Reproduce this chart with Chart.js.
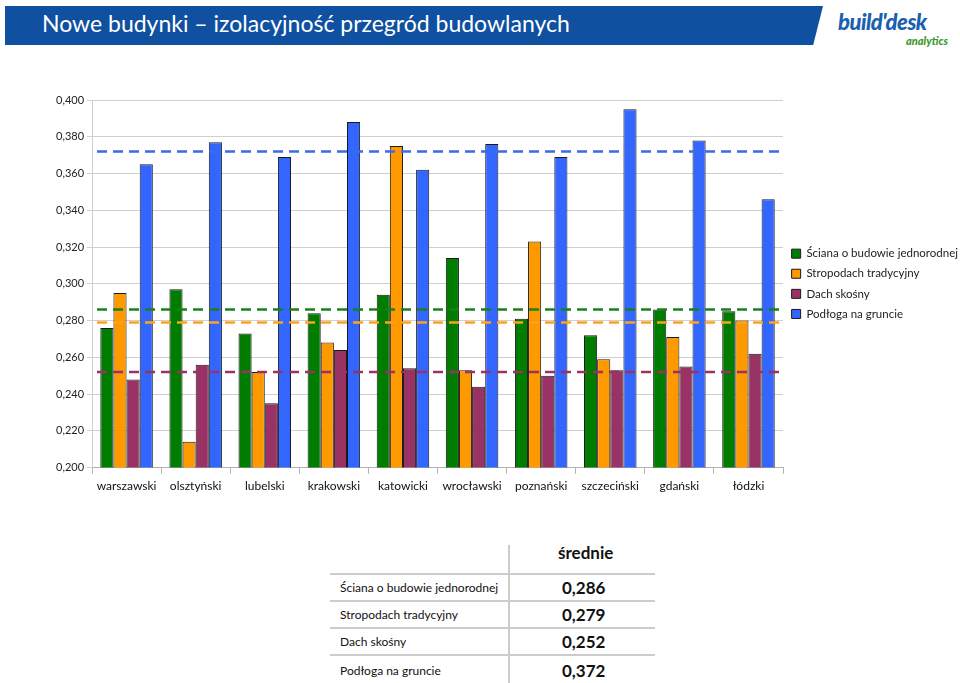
<!DOCTYPE html>
<html>
<head>
<meta charset="utf-8">
<script src="https://cdn.jsdelivr.net/npm/chart.js@4"></script>
<style>
  body { margin: 0; background: #fff; font-family: Lato, sans-serif; }
  #page { position: relative; width: 960px; height: 683px; overflow: hidden; }
  #banner { position: absolute; left: 5px; top: 6px; width: 818px; height: 39px; background: #0f50a0;
            clip-path: polygon(0 0, 100% 0, 98.8% 100%, 0 100%); }
  #title { position: absolute; left: 42px; top: 9px; color: #fff; font-size: 23px; }
  #logo { position: absolute; left: 838px; top: 8px; color: #1a60b0; font-size: 22px; font-weight: 900; font-style: italic; letter-spacing: -0.5px; }
  #logo2 { position: absolute; left: 906px; top: 34px; color: #3a9a2a; font-size: 11px; font-weight: 900; font-style: italic; }
  #chart { position: absolute; left: 0; top: 50px; }
  #avg { position: absolute; left: 330px; top: 545px; border-collapse: collapse; font-family: Lato, sans-serif; }
  #avg td { padding: 0; }
  #avg td.lab { width: 179px; padding-left: 10px; box-sizing: border-box; font-size: 12px; color: #111; border-right: 2px solid #ccc; }
  #avg td.val { width: 146px; padding-left: 52px; box-sizing: border-box; font-size: 17px; font-weight: bold; color: #111; }
  #avg tr { height: 27px; border-bottom: 2px solid #ccc; }
  #avg tr:last-child { border-bottom: none; height: 29px; }
  #avg tr.head { height: 29px; }
  #avg tr.head td.val { padding-left: 48px; font-size: 17px; vertical-align: top; }
  #avg tr.head td.val span { position: relative; top: -3px; }
</style>
</head>
<body>
<div id="page">
  <div id="banner"></div>
  <div id="title">Nowe budynki – izolacyjność przegród budowlanych</div>
  <div id="logo">build'desk</div>
  <div id="logo2">analytics</div>
  <canvas id="chart" width="960" height="460"></canvas>
  <table id="avg"></table>
</div>
<script>
var categories = ['warszawski', 'olsztyński', 'lubelski', 'krakowski', 'katowicki',
                  'wrocławski', 'poznański', 'szczeciński', 'gdański', 'łódzki'];
var seriesNames = ['Ściana o budowie jednorodnej', 'Stropodach tradycyjny', 'Dach skośny', 'Podłoga na gruncie'];
var sciana   = [0.276, 0.297, 0.273, 0.284, 0.294, 0.314, 0.281, 0.272, 0.286, 0.285];
var stropod  = [0.295, 0.214, 0.252, 0.268, 0.375, 0.253, 0.323, 0.259, 0.271, 0.280];
var dach     = [0.248, 0.256, 0.235, 0.264, 0.254, 0.244, 0.250, 0.253, 0.255, 0.262];
var podloga  = [0.365, 0.377, 0.369, 0.388, 0.362, 0.376, 0.369, 0.395, 0.378, 0.346];
var srednie  = [0.286, 0.279, 0.252, 0.372];
var fillColors = ['#007d00', '#ff9900', '#993366', '#3366ff'];
var lineColors = ['#1a801a', '#ffa31a', '#993366', '#3d6be8'];

function fmt(v) { return v.toFixed(3).replace('.', ','); }

// linie średnich, rysowane na skali y
var avgLines = {
    id: 'avgLines',
    afterDatasetsDraw: function (chart) {
        var ctx = chart.ctx, area = chart.chartArea, y = chart.scales.y;
        ctx.save();
        ctx.lineWidth = 2.5;
        ctx.setLineDash([10, 6]);
        srednie.forEach(function (v, i) {
            var py = y.getPixelForValue(v);
            ctx.strokeStyle = lineColors[i];
            ctx.beginPath();
            ctx.moveTo(area.left + 5, py);
            ctx.lineTo(area.right, py);
            ctx.stroke();
        });
        ctx.restore();
    }
};

var values = [sciana, stropod, dach, podloga];
var ctx = document.getElementById('chart').getContext('2d');
var chart = new Chart(ctx, {
    type: 'bar',
    data: {
        labels: categories,
        datasets: values.map(function (d, i) {
            return {
                label: seriesNames[i],
                data: d,
                backgroundColor: fillColors[i],
                borderColor: '#1a1a1a',
                borderWidth: 1,
                barPercentage: 1,
                categoryPercentage: 0.76
            };
        })
    },
    options: {
        responsive: false,
        animation: false,
        layout: { padding: { left: 53, top: 50, right: -8, bottom: 12 } },
        plugins: {
            legend: {
                position: 'right',
                fullSize: false,
                labels: {
                    boxWidth: 9, boxHeight: 9, padding: 8.6,
                    color: '#222',
                    font: { family: 'Lato', size: 11.5 }
                }
            },
            tooltip: { enabled: false }
        },
        scales: {
            x: {
                grid: { display: true, drawOnChartArea: false, tickLength: 6, color: '#b0b0b0' },
                border: { color: '#b0b0b0' },
                ticks: { color: '#111', font: { family: 'Lato', size: 12 }, padding: 5 }
            },
            y: {
                min: 0.2, max: 0.4,
                grid: { color: '#cfcfcf', tickLength: 5 },
                border: { color: '#cfcfcf' },
                ticks: {
                    stepSize: 0.02,
                    color: '#222',
                    padding: 3,
                    font: { family: 'Lato', size: 11 },
                    callback: function (v) { return fmt(v); }
                }
            }
        }
    },
    plugins: [avgLines]
});

// tabela średnich
var table = document.getElementById('avg');
var html = '<tr class="head"><td class="lab"></td><td class="val"><span>średnie</span></td></tr>';
seriesNames.forEach(function (n, i) {
    html += '<tr><td class="lab">' + n + '</td><td class="val">' + fmt(srednie[i]) + '</td></tr>';
});
table.innerHTML = html;
</script>
</body>
</html>
